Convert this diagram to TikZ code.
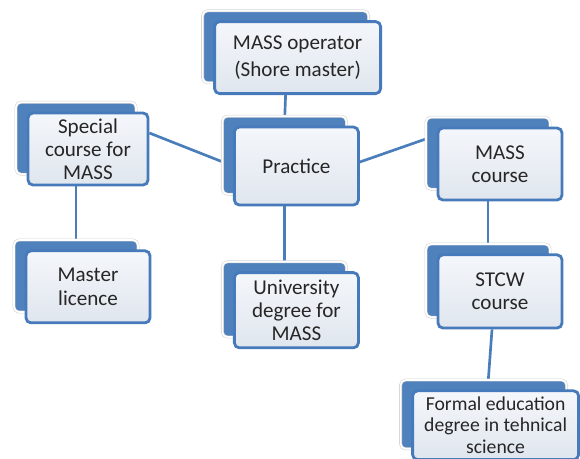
\documentclass[tikz,border=0pt]{standalone}
\usepackage{fontspec}
\setmainfont{Carlito}
\usetikzlibrary{
  positioning,
  shadows,
  backgrounds
}
\definecolor{backblue}{RGB}{79,129,189}
\definecolor{edgeblue}{RGB}{70,122,186}
\definecolor{facetop}{RGB}{244,247,251}
\definecolor{facebot}{RGB}{224,230,238}
\definecolor{linkblue}{RGB}{74,126,187}

\begin{document}
\begin{tikzpicture}[
  every node/.style={font=\fontsize{15}{16.5}\selectfont, text=black!85},
  card/.style={draw=edgeblue, line width=2pt, rounded corners=3.5pt, top color=facetop, bottom color=facebot,
    align=center, minimum width=3.1cm, minimum height=1.8cm, inner sep=2pt,
    copy shadow={shadow xshift=-0.3cm, shadow yshift=0.27cm, fill=backblue, draw=gray!35, line width=0.4pt, double=white, double distance=1.2pt}},
  link/.style={draw=linkblue, line width=1.9pt}
]
\useasboundingbox (0,0) rectangle (14.5,-11.45);

% Top of the tree
\node[card, minimum width=4.15cm, font=\fontsize{15}{19.5}\selectfont] (operator) at (7.44,-1.44) {MASS operator\\(Shore master)};
\node[card, minimum height=1.95cm] (practice) at (7.41,-4.15) {Practice};

% Left branch
\node[card, minimum width=3cm] (special) at (2.2,-3.725) {Special\\course for\\MASS};
\node[card, below=1.575cm of special] (licence) {Master\\licence};

% Middle branch
\node[card, minimum height=1.88cm, below=1.62cm of practice] (university) {University\\degree for\\MASS};

% Right branch
\node[card] (masscourse) at (12.5,-4.1) {MASS\\course};
\node[card, minimum height=1.83cm, below=1.3cm of masscourse] (stcw) {STCW\\course};
\node[card, minimum width=4.15cm, minimum height=1.72cm, below=1.5cm of stcw, xshift=-0.11cm,
  font=\fontsize{14}{15}\selectfont] (formal) {Formal education\\degree in tehnical\\science};

% Connectors
\begin{scope}[on background layer]
\draw[link] ([xshift=-0.3cm]operator.south) -- ([xshift=-0.3cm]practice.north);
\draw[link] ([yshift=0.4cm]special.east) -- (practice.west);
\draw[link] ([yshift=0.1cm]practice.east) -- ([yshift=0.72cm]masscourse.west);
\draw[link] ([xshift=-0.3cm]special.south) -- ([xshift=-0.3cm]licence.north);
\draw[link] ([xshift=-0.3cm]practice.south) -- ([xshift=-0.3cm]university.north);
\draw[link] ([xshift=-0.3cm]masscourse.south) -- ([xshift=-0.3cm]stcw.north);
\draw[link] ([xshift=-0.2cm]stcw.south) -- ([xshift=-0.2cm]formal.north);
\end{scope}

\end{tikzpicture}
\end{document}
